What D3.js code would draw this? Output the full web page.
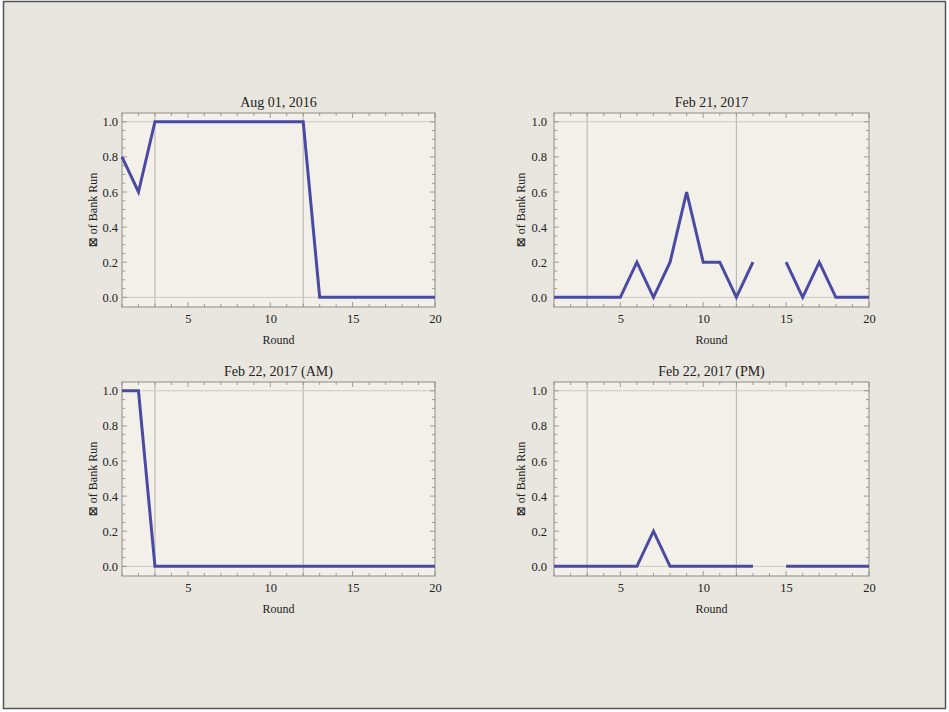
<!DOCTYPE html>
<html>
<head>
<meta charset="utf-8">
<script src="https://cdn.jsdelivr.net/npm/d3@7"></script>
<style>
    body { margin: 0; background: #fff; }
    svg { display: block; }
    text { font-family: "Liberation Serif", "DejaVu Serif", serif; fill: #222; }
</style>
</head>
<body>
<div id="chart"></div>
<script>

// rounds 1..20, null = no data
var rounds = d3.range(1, 21)

var titles = ["Aug 01, 2016", "Feb 21, 2017", "Feb 22, 2017 (AM)", "Feb 22, 2017 (PM)"]

var aug01 = [0.8, 0.6, 1, 1, 1, 1, 1, 1, 1, 1, 1, 1, 0, 0, 0, 0, 0, 0, 0, 0]
var feb21 = [0, 0, 0, 0, 0, 0.2, 0, 0.2, 0.6, 0.2, 0.2, 0, 0.2, null, 0.2, 0, 0.2, 0, 0, 0]
var feb22am = [1, 1, 0, 0, 0, 0, 0, 0, 0, 0, 0, 0, 0, 0, 0, 0, 0, 0, 0, 0]
var feb22pm = [0, 0, 0, 0, 0, 0, 0.2, 0, 0, 0, 0, 0, 0, null, 0, 0, 0, 0, 0, 0]

var seriesList = [aug01, feb21, feb22am, feb22pm]

var xTicks = [5, 10, 15, 20]
var yTicks = [0, 0.2, 0.4, 0.6, 0.8, 1.0]
var gridX = [3, 12]
var gridY = [0, 1]

var yLabel = "\u22A0 of Bank Run"
var xLabel = "Round"

var width = 949, height = 712

var svg = d3.select("#chart").append("svg")
    .attr("width", width)
    .attr("height", height)

// paper
svg.append("rect")
    .attr("x", 0).attr("y", 0)
    .attr("width", width).attr("height", height)
    .attr("fill", "#ffffff")

svg.append("rect")
    .attr("x", 3.5).attr("y", 1.5)
    .attr("width", 942).attr("height", 707)
    .attr("fill", "#e9e6df")
    .attr("stroke", "#555")
    .attr("stroke-width", 1.5)

// panel frames (left, right, top, bottom of frame)
var panels = [
    {x0: 122, x1: 435, top: 113, bottom: 307, labelX: 93, pad: 4},
    {x0: 554, x1: 869, top: 113, bottom: 307, labelX: 521, pad: 7},
    {x0: 122, x1: 435, top: 382, bottom: 576, labelX: 93, pad: 4},
    {x0: 554, x1: 869, top: 382, bottom: 576, labelX: 521, pad: 7}
]

var yDomain = [-0.055, 1.05]

panels.forEach(function(p, i) {

    var values = seriesList[i]

    var x = d3.scaleLinear().domain([1, 20]).range([p.x0, p.x1])
    var y = d3.scaleLinear().domain(yDomain).range([p.bottom, p.top])

    var g = svg.append("g").attr("class", "panel")

    g.append("rect")
        .attr("x", p.x0).attr("y", p.top)
        .attr("width", p.x1 - p.x0).attr("height", p.bottom - p.top)
        .attr("fill", "#f3f0e9")

    // grid lines
    g.selectAll(".gx").data(gridX).enter().append("line")
        .attr("x1", d => x(d)).attr("x2", d => x(d))
        .attr("y1", p.top).attr("y2", p.bottom)
        .attr("stroke", "#b4b0aa").attr("stroke-width", 1)

    g.selectAll(".gy").data(gridY).enter().append("line")
        .attr("x1", p.x0).attr("x2", p.x1)
        .attr("y1", d => y(d)).attr("y2", d => y(d))
        .attr("stroke", "#cdc9c2").attr("stroke-width", 1)

    // ticks on all four sides, pointing in
    var minorX = rounds.filter(d => xTicks.indexOf(d) < 0)
    var minorY = d3.range(0, 21).map(d => d * 0.05).filter(d => Math.round(d * 100) % 20 !== 0)

    var bottomAxis = d3.axisBottom(x).tickValues(xTicks).tickSize(0).tickPadding(7).tickFormat(d3.format("d"))
    var leftAxis = d3.axisLeft(y).tickValues(yTicks).tickSize(0).tickPadding(p.pad).tickFormat(d3.format(".1f"))

    var tickColor = "#8a8680"

    function tickLines(vals, len, horizontal) {
        vals.forEach(function(v) {
            if (horizontal) {
                g.append("line").attr("x1", x(v)).attr("x2", x(v))
                    .attr("y1", p.bottom).attr("y2", p.bottom - len)
                    .attr("stroke", tickColor).attr("stroke-width", 0.8)
                g.append("line").attr("x1", x(v)).attr("x2", x(v))
                    .attr("y1", p.top).attr("y2", p.top + len)
                    .attr("stroke", tickColor).attr("stroke-width", 0.8)
            } else {
                g.append("line").attr("x1", p.x0).attr("x2", p.x0 + len)
                    .attr("y1", y(v)).attr("y2", y(v))
                    .attr("stroke", tickColor).attr("stroke-width", 0.8)
                g.append("line").attr("x1", p.x1).attr("x2", p.x1 - len)
                    .attr("y1", y(v)).attr("y2", y(v))
                    .attr("stroke", tickColor).attr("stroke-width", 0.8)
            }
        })
    }

    tickLines(xTicks, 5, true)
    tickLines(minorX, 3, true)
    tickLines(yTicks, 5, false)
    tickLines(minorY, 3, false)

    var bx = g.append("g")
        .attr("transform", "translate(0," + p.bottom + ")")
        .call(bottomAxis)
    bx.select(".domain").remove()
    bx.selectAll("text").attr("font-size", 12.5).attr("font-family", "Liberation Serif").attr("fill", "#222")

    var ly = g.append("g")
        .attr("transform", "translate(" + p.x0 + ",0)")
        .call(leftAxis)
    ly.select(".domain").remove()
    ly.selectAll("text").attr("font-size", 12.5).attr("font-family", "Liberation Serif").attr("fill", "#222")

    // frame
    g.append("rect")
        .attr("x", p.x0).attr("y", p.top)
        .attr("width", p.x1 - p.x0).attr("height", p.bottom - p.top)
        .attr("fill", "none")
        .attr("stroke", "#8f8b85").attr("stroke-width", 1)

    // data line
    var line = d3.line()
        .defined(d => d[1] !== null)
        .x(d => x(d[0]))
        .y(d => y(d[1]))

    g.append("path")
        .datum(rounds.map((r, k) => [r, values[k]]))
        .attr("d", line)
        .attr("fill", "none")
        .attr("stroke", "#4b4aa2")
        .attr("stroke-width", 3)
        .attr("stroke-linejoin", "miter")

    // title
    g.append("text")
        .attr("x", (p.x0 + p.x1) / 2)
        .attr("y", p.top - 6)
        .attr("text-anchor", "middle")
        .attr("font-size", 14)
        .text(titles[i])

    // axis labels
    g.append("text")
        .attr("x", (p.x0 + p.x1) / 2)
        .attr("y", p.bottom + 37)
        .attr("text-anchor", "middle")
        .attr("font-size", 12)
        .text(xLabel)

    g.append("text")
        .attr("transform", "translate(" + p.labelX + "," + ((p.top + p.bottom) / 2) + ") rotate(-90)")
        .attr("text-anchor", "middle")
        .attr("dy", "0.35em")
        .attr("font-size", 12)
        .text(yLabel)

})

</script>
</body>
</html>
